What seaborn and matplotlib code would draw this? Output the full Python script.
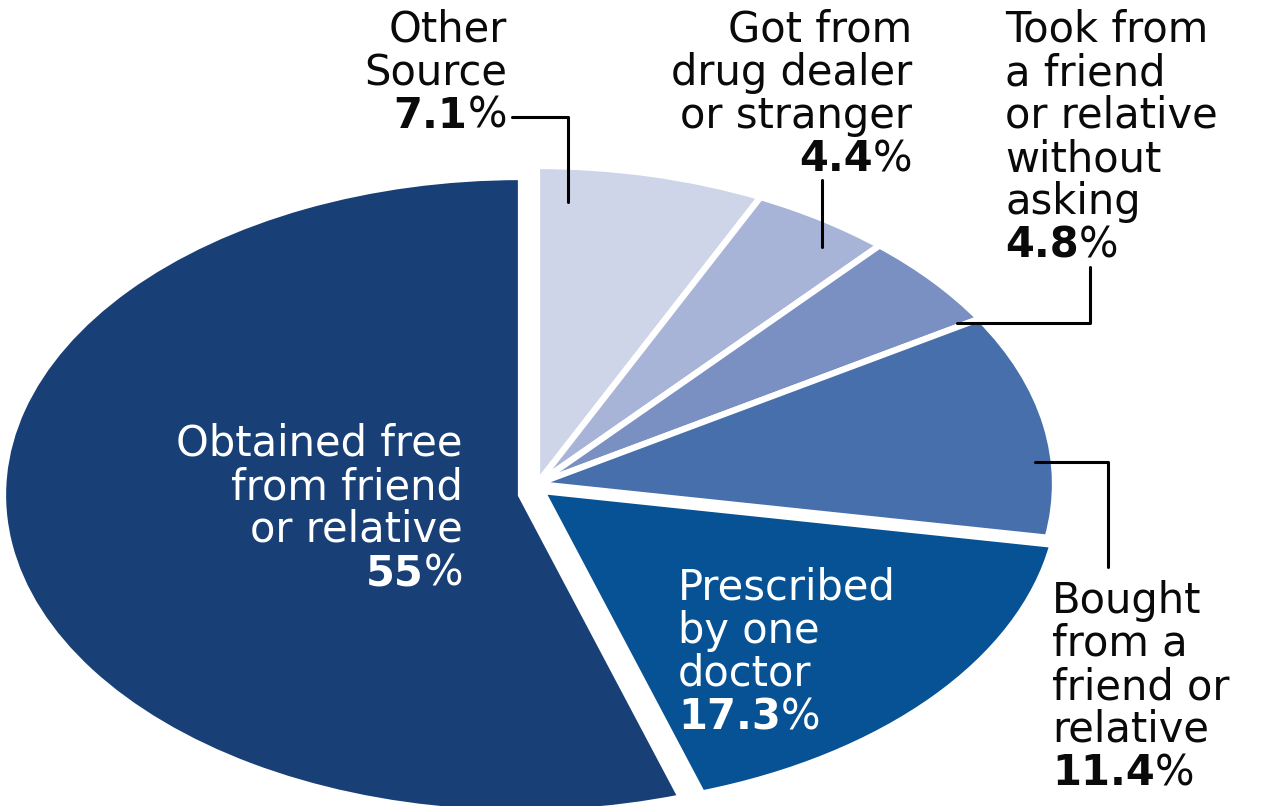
import matplotlib
matplotlib.use("Agg")
import matplotlib.pyplot as plt
import seaborn as sns

# Sources of prescription pain relievers (percent of users)
sources = [
    "Other Source",
    "Got from drug dealer or stranger",
    "Took from a friend or relative without asking",
    "Bought from a friend or relative",
    "Prescribed by one doctor",
    "Obtained free from friend or relative",
]
shares = [7.1, 4.4, 4.8, 11.4, 17.3, 55]
label_lines = [
    ["Other", "Source"],
    ["Got from", "drug dealer", "or stranger"],
    ["Took from", "a friend", "or relative", "without", "asking"],
    ["Bought", "from a", "friend or", "relative"],
    ["Prescribed", "by one", "doctor"],
    ["Obtained free", "from friend", "or relative"],
]
slice_colors = ["#cfd5e8", "#a8b4d7", "#7b90c2", "#466fac", "#075294", "#183f76"]

sns.set_theme(style="white")
plt.rcParams["font.family"] = ["DejaVu Sans"]
palette = sns.color_palette(slice_colors)

W, H = 1278, 806
fig = plt.figure(figsize=(W / 100, H / 100), dpi=100)
fig.patch.set_facecolor("white")

# pie axes: unit circle stretched into an ellipse
cx, cy, rx, ry = 537, 484, 518, 318
ax = fig.add_axes([0, 0, 1, 1])
wedges, _ = ax.pie(
    shares,
    colors=palette,
    startangle=90,
    counterclock=False,
    radius=1,
    wedgeprops=dict(edgecolor="white", linewidth=4.5),
)
ax.set_aspect("auto")
ax.set_xlim(-cx / rx, (W - cx) / rx)
ax.set_ylim(-(H - cy) / ry, cy / ry)
ax.axis("off")

# pull the two large slices slightly away from the rest (pixel offsets)
slice_shift = {5: (-16, 11), 4: (5, 7)}
for i, (dx, dy) in slice_shift.items():
    c = wedges[i].center
    wedges[i].set_center((c[0] + dx / rx, c[1] - dy / ry))

# overlay in pixel coordinates for labels and leader lines
ov = fig.add_axes([0, 0, 1, 1])
ov.set_xlim(0, W)
ov.set_ylim(H, 0)
ov.axis("off")
ov.patch.set_alpha(0)

FS = 30
STEP = 43
# (x anchor, alignment, first baseline, colour)
label_pos = [
    (507, "right", 42, "#0a0a0a"),
    (912, "right", 42, "#0a0a0a"),
    (1005, "left", 42, "#0a0a0a"),
    (1052, "left", 613, "#0a0a0a"),
    (678, "left", 600, "white"),
    (463, "right", 456, "white"),
]

for lines, v, (x, ha, y0, col) in zip(label_lines, shares, label_pos):
    for k, line in enumerate(lines):
        ov.text(x, y0 + k * STEP, line, ha=ha, va="baseline",
                fontsize=FS, color=col)
    yb = y0 + len(lines) * STEP
    num = f"{v:g}"
    if ha == "right":
        pct = ov.text(x, yb, "%", ha="right", va="baseline",
                      fontsize=FS, color=col)
        ov.annotate(num, xy=(0, 0), xycoords=pct, ha="right", va="bottom",
                    fontsize=FS, fontweight="bold", color=col)
    else:
        digits = ov.text(x, yb, num, ha="left", va="baseline",
                         fontsize=FS, fontweight="bold", color=col)
        ov.annotate("%", xy=(1, 0), xycoords=digits, ha="left", va="bottom",
                    fontsize=FS, color=col)

# leader lines
lw = 2.2
ov.plot([512, 568, 568], [117, 117, 202], color="black", lw=lw)
ov.plot([822, 822], [180, 247], color="black", lw=lw)
ov.plot([1090, 1090, 957], [267, 323, 323], color="black", lw=lw)
ov.plot([1035, 1108, 1108], [462, 462, 567], color="black", lw=lw)

fig.savefig("out.png", dpi=100, facecolor="white")
